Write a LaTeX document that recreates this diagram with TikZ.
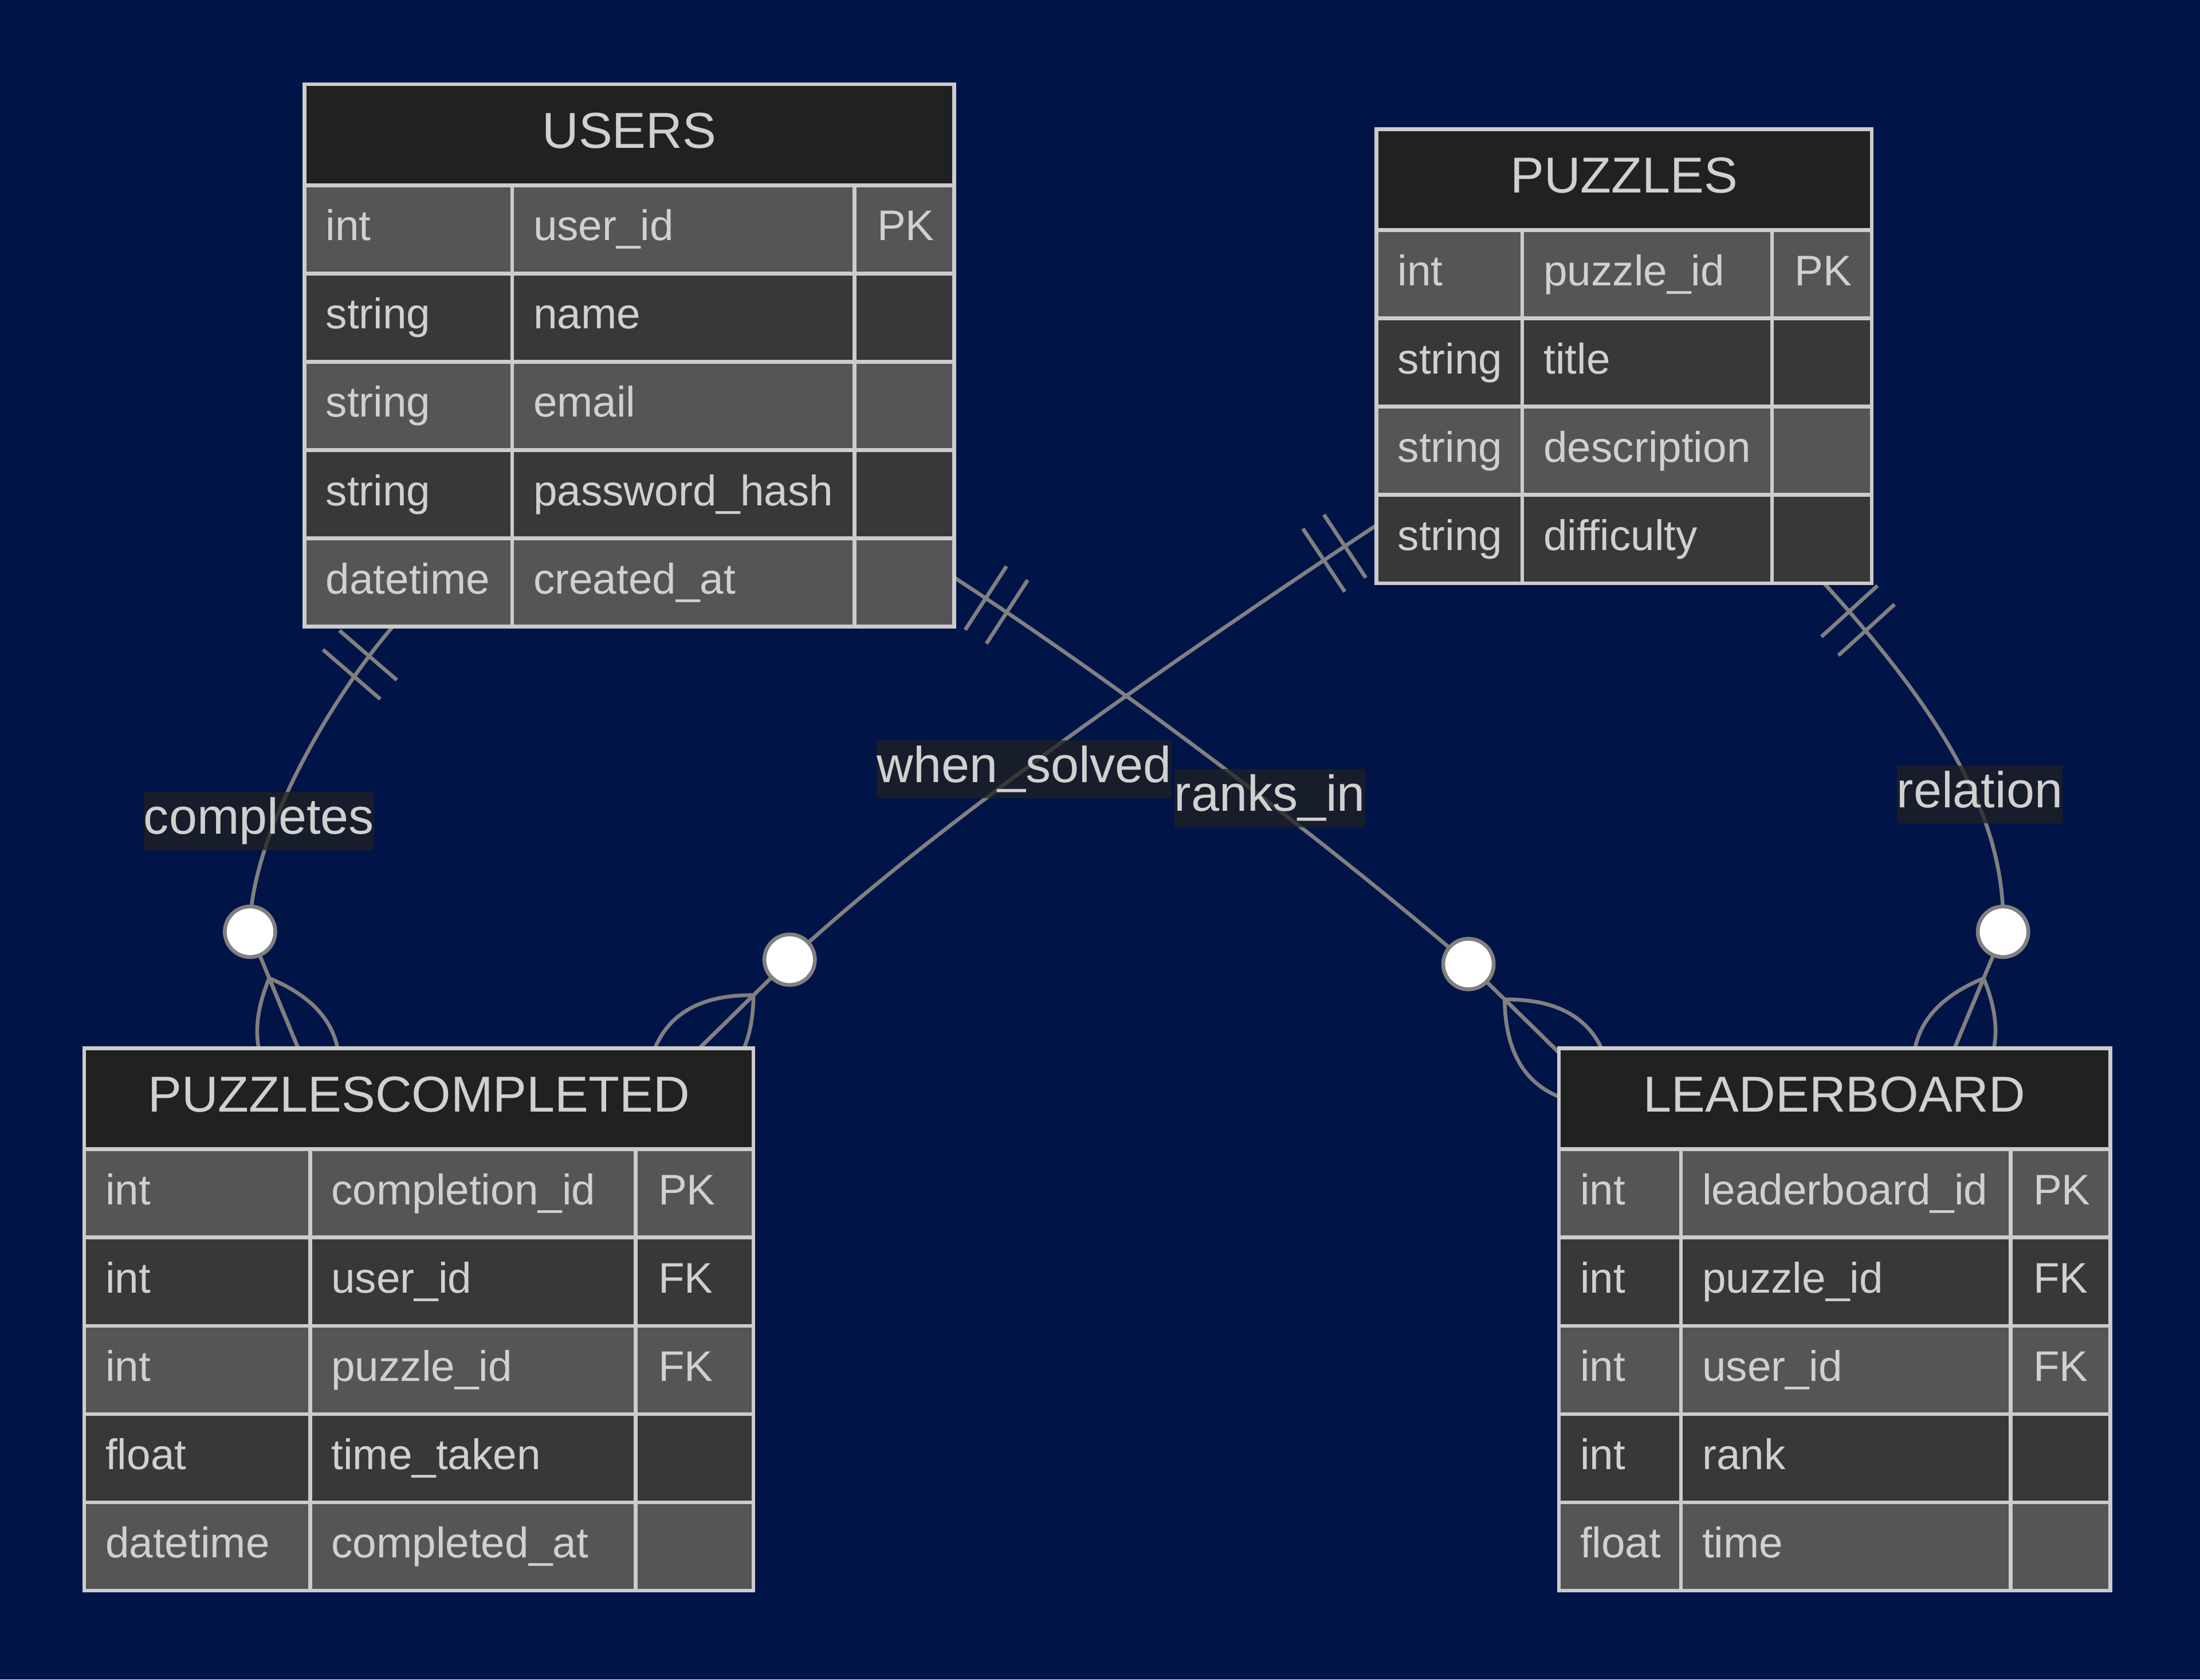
\documentclass[tikz,border=0pt]{standalone}
\usepackage{fontspec}
\setmainfont{Liberation Sans}
\usetikzlibrary{calc}
\definecolor{bgc}{RGB}{0,20,72}
\definecolor{hdrcol}{RGB}{32,33,33}
\definecolor{rowa}{RGB}{85,85,85}
\definecolor{rowb}{RGB}{56,56,56}
\definecolor{gridcol}{RGB}{204,204,204}
\definecolor{txtcol}{RGB}{208,208,208}
\definecolor{conncol}{RGB}{128,128,128}
\pgfdeclarelayer{bglayer}
\pgfdeclarelayer{connlayer}
\pgfsetlayers{bglayer,connlayer,main}
\tikzset{
  conn/.style={draw=conncol, line width=2.7pt},
  grid/.style={draw=gridcol, line width=2.7pt},
  frame/.style={draw=gridcol, line width=2.7pt, inner sep=0pt, outer sep=0pt, rectangle},
  attr/.style={anchor=base west, inner sep=0pt, text=txtcol, font=\fontsize{30.5}{36}\selectfont},
  ttl/.style={anchor=base, inner sep=0pt, text=txtcol, font=\fontsize{36}{42}\selectfont},
  rel/.style={anchor=base, inner sep=0pt, fill=hdrcol, fill opacity=0.75, text opacity=1, text=txtcol, text height=30pt, text depth=11.5pt, font=\fontsize{36}{42}\selectfont},
}
% entity: #1 name, #2 left, #3 top, #4 right, #5 divider1, #6 divider2, #7 title, #8 number of rows, #9 rows
\newcommand{\entity}[9]{%
  \pgfmathsetmacro{\ehb}{#3+72}%
  \pgfmathsetmacro{\ebot}{#3+72+#8*62.9}%
  \fill[hdrcol] (#2,#3) rectangle (#4,\ehb);
  \foreach \ta/\na/\ka [count=\ri] in {#9} {%
    \pgfmathsetmacro{\yt}{\ehb+(\ri-1)*62.9}%
    \pgfmathsetmacro{\yb}{\yt+62.9}%
    \pgfmathsetmacro{\ybase}{\yt+39.45}%
    \ifodd\ri\relax \fill[rowa] (#2,\yt) rectangle (#4,\yb);\else \fill[rowb] (#2,\yt) rectangle (#4,\yb);\fi
    \draw[grid] (#2,\yt) -- (#4,\yt);
    \node[attr] (#1-t\ri) at (#2+15,\ybase) {\ta};
    \node[attr] (#1-n\ri) at (#5+15,\ybase) {\na};
    \node[attr] (#1-k\ri) at (#6+16,\ybase) {\ka};
  }
  \draw[grid] (#5,\ehb) -- (#5,\ebot);
  \draw[grid] (#6,\ehb) -- (#6,\ebot);
  \node[ttl] (#1-title) at ({(#2+#4)/2},#3+45.5) {#7};
  \node[frame, anchor=north west, minimum width={#4-#2}, minimum height={\ebot-#3}] (#1) at (#2,#3) {};
}
% zero-or-more end marker: #1 circle centre, #2 end point on the entity edge
\newcommand{\zeromany}[2]{%
  \coordinate (zmP) at ($(#2)!54pt!(#1)$);
  \coordinate (zmT) at ($(zmP)!108pt!(#2)$);
  \draw[conn] (zmP) .. controls ($(zmP)!50.91pt!45:(#2)$) and ($(zmP)!80.50pt!26.565:(#2)$) .. (zmT);
  \draw[conn] (zmP) .. controls ($(zmP)!50.91pt!-45:(#2)$) and ($(zmP)!80.50pt!-26.565:(#2)$) .. (zmT);
  \draw[conn] (zmP) -- (zmT);
  \draw[conn, fill=white] (#1) circle[radius=18pt];
}
% exactly-one start marker: #1 start point, #2 point giving the direction
\newcommand{\onlyone}[2]{%
  \coordinate (ooA) at ($(#1)!27pt!(#2)$);
  \coordinate (ooB) at ($(#1)!45pt!(#2)$);
  \draw[conn] ($(ooA)!27pt!90:(#1)$) -- ($(ooA)!27pt!-90:(#1)$);
  \draw[conn] ($(ooB)!27pt!90:(#1)$) -- ($(ooB)!27pt!-90:(#1)$);
}
\begin{document}
\begin{tikzpicture}[x=1pt,y=-1pt]
\useasboundingbox (0,0) rectangle (1568,1197);
\begin{pgfonlayer}{bglayer}
  \fill[bgc] (0,0) rectangle (1568,1197);
\end{pgfonlayer}

\entity{users}{217}{60}{680}{365}{609}{USERS}{5}{int/user\_id/PK, string/name/{}, string/email/{}, string/password\_hash/{}, datetime/created\_at/{}}
\entity{puzzles}{981}{92}{1334}{1085}{1263}{PUZZLES}{4}{int/puzzle\_id/PK, string/title/{}, string/description/{}, string/difficulty/{}}
\entity{pc}{60}{747}{537}{221}{453}{PUZZLESCOMPLETED}{5}{int/completion\_id/PK, int/user\_id/FK, int/puzzle\_id/FK, float/time\_taken/{}, datetime/completed\_at/{}}
\entity{lb}{1111}{747}{1504}{1198}{1433}{LEADERBOARD}{5}{int/leaderboard\_id/PK, int/puzzle\_id/FK, int/user\_id/FK, int/rank/{}, float/time/{}}

% connector end points
\coordinate (s1) at ($(users.south west)+(63,0)$);
\coordinate (e1) at ($(pc.north west)+(152.5,0)$);
\coordinate (cc1) at ($(e1)+(-34.3,-83)$);
\coordinate (c1a) at (233,501);
\coordinate (c1b) at (177,600);

\coordinate (s2) at ($(puzzles.north west)+(0,282.3)$);
\coordinate (e2) at ($(pc.north west)+(438.5,0)$);
\coordinate (cc2) at ($(e2)+(64.3,-63.1)$);
\coordinate (c2a) at (855,458);
\coordinate (c2b) at (672.5,582);

\coordinate (s3) at ($(users.north east)+(0,351.5)$);
\coordinate (e3) at ($(lb.north west)+(0,3)$);
\coordinate (cc3) at ($(e3)+(-64.4,-63)$);
\coordinate (c3a) at (807,494);
\coordinate (c3b) at (955.5,608.5);

\coordinate (s4) at ($(puzzles.south west)+(319,0)$);
\coordinate (e4) at ($(lb.north west)+(282,0)$);
\coordinate (cc4) at ($(e4)+(34.6,-83)$);
\coordinate (c4a) at (1395,520);
\coordinate (c4b) at (1430,592);

\begin{pgfonlayer}{connlayer}
  \draw[conn] (s1) .. controls (c1a) and (c1b) .. (cc1) -- (e1);
  \onlyone{s1}{c1a}
  \zeromany{cc1}{e1}
  \draw[conn] (s2) .. controls (c2a) and (c2b) .. (cc2) -- (e2);
  \onlyone{s2}{c2a}
  \zeromany{cc2}{e2}
  \draw[conn] (s3) .. controls (c3a) and (c3b) .. (cc3) -- (e3);
  \onlyone{s3}{c3a}
  \zeromany{cc3}{e3}
  \draw[conn] (s4) .. controls (c4a) and (c4b) .. (cc4) -- (e4);
  \onlyone{s4}{c4a}
  \zeromany{cc4}{e4}
\end{pgfonlayer}

\node[rel] (lcompletes) at (184.5,594.4) {completes};
\node[rel] (lwhen) at (730,557.4) {when\_solved};
\node[rel] (lranks) at (905,578) {ranks\_in};
\node[rel] (lrelation) at (1411,575.4) {relation};
\end{tikzpicture}
\end{document}
